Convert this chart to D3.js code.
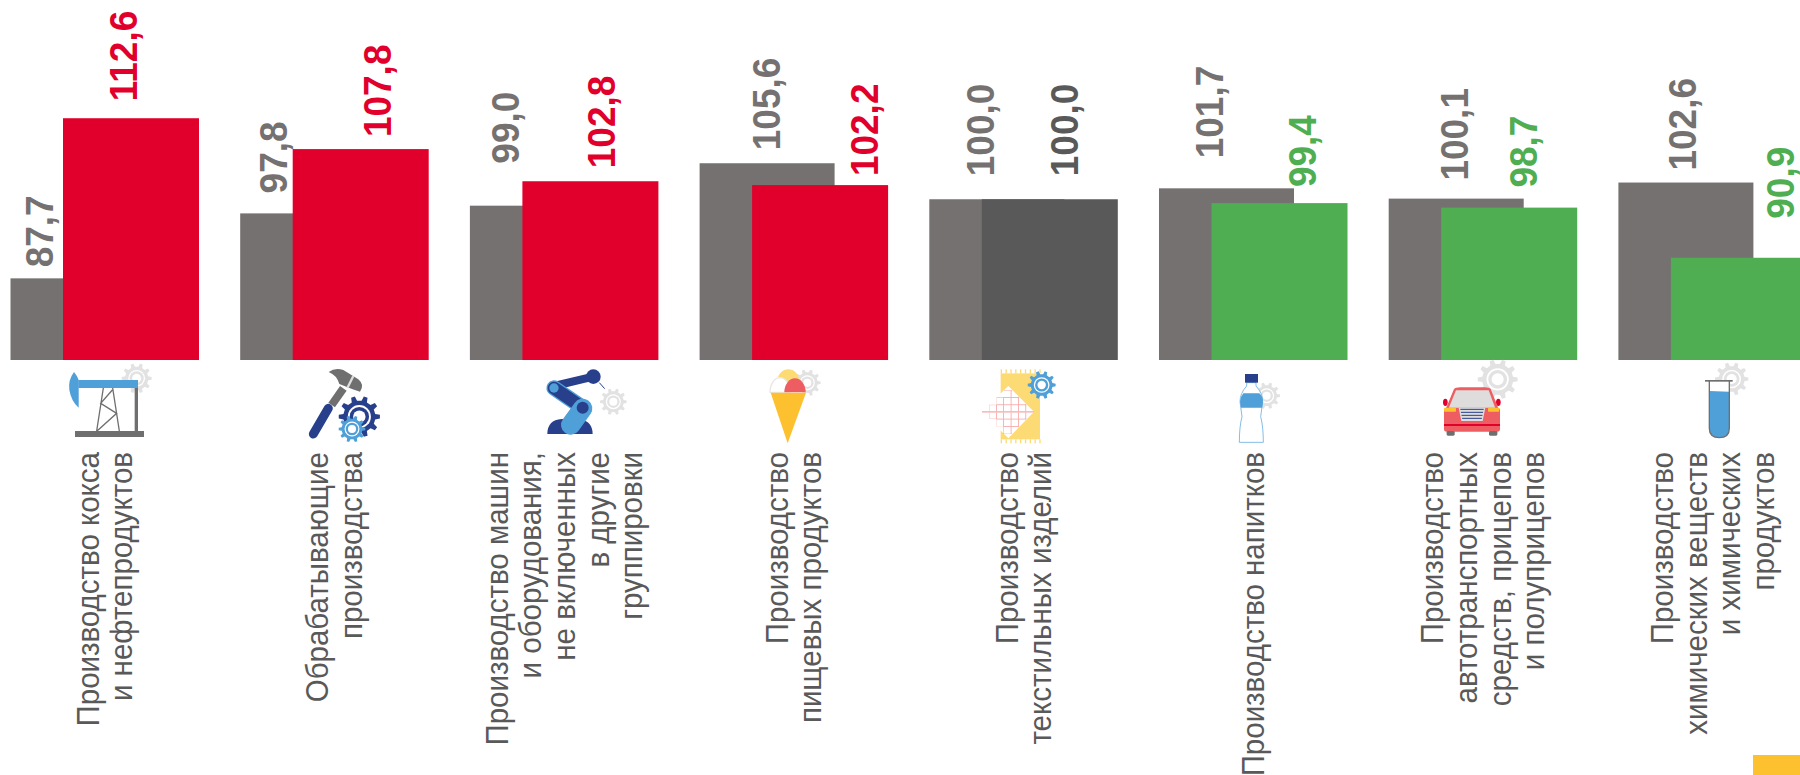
<!DOCTYPE html>
<html lang="ru">
<head>
<meta charset="utf-8">
<script src="https://cdn.jsdelivr.net/npm/d3@7"></script>
<style>
  html, body { margin: 0; padding: 0; background: #fff; overflow: hidden; }
  svg { display: block; font-family: "Liberation Sans", Arial, sans-serif; }
</style>
</head>
<body>
<script>
// data
const categories = [
  ["Производство кокса", "и нефтепродуктов"],
  ["Обрабатывающие", "производства"],
  ["Производство машин", "и оборудования,", "не включенных", "в другие", "группировки"],
  ["Производство", "пищевых продуктов"],
  ["Производство", "текстильных изделий"],
  ["Производство напитков"],
  ["Производство", "автотранспортных", "средств, прицепов", "и полуприцепов"],
  ["Производство", "химических веществ", "и химических", "продуктов"]
];
const previous = [87.7, 97.8, 99.0, 105.6, 100.0, 101.7, 100.1, 102.6];
const current = [112.6, 107.8, 102.8, 102.2, 100.0, 99.4, 98.7, 90.9];

// layout
const width = 1800, height = 775, baseline = 360;
const grey = "#767171", red = "#e1002b", green = "#4fae52", dark = "#595959";
const lightBlue = "#4f9fd9", navy = "#28408c", gearGrey = "#e2e2e2", iconGrey = "#6f6f6f";
const coral = "#ee5d62", amber = "#fdc12f", sand = "#fddb74";
const currShift = 52.5;

// hand placed labels, same as the source slide: [offset from bar left, gap above bar]
const prevLabelPos = [[42.5, 11], [47, 20], [49, 42], [80, 13], [65, 23], [63.6, 30], [79, 18], [77.6, 12]];
const currLabelPos = [[74, 17], [98, 12], [92.6, 13], [126, 9], [96, 23], [104, 16], [96, 20], [123, 39]];

const svg = d3.select("body").append("svg")
  .attr("width", width).attr("height", height);

const padInner = 0.179, groupStep = 229.7;
const x = d3.scaleBand()
  .domain(d3.range(categories.length))
  .range([10.5, 10.5 + groupStep * (categories.length - padInner)])
  .paddingInner(padInner)
  .paddingOuter(0);
const y = d3.scaleLinear().domain([75, 75 + baseline / 6.43]).range([baseline, 0]);

const fmt = v => v.toFixed(1).replace(".", ",");
const currColor = v => v > 100 ? red : v < 100 ? green : dark;

// bars
svg.append("g").selectAll("rect").data(previous).join("rect")
  .attr("x", (d, i) => x(i))
  .attr("y", d => y(d))
  .attr("width", 135)
  .attr("height", d => baseline - y(d))
  .attr("fill", grey);

svg.append("g").selectAll("rect").data(current).join("rect")
  .attr("x", (d, i) => x(i) + currShift)
  .attr("y", d => y(d))
  .attr("width", 136)
  .attr("height", d => baseline - y(d))
  .attr("fill", currColor);

// value labels
const valueLabel = (values, pos, shift, color) => svg.append("g").selectAll("text").data(values).join("text")
  .attr("transform", (d, i) => `translate(${x(i) + shift + pos[i][0]},${y(d) - pos[i][1]}) rotate(-90) scale(1,1.05)`)
  .attr("font-size", 37)
  .attr("font-weight", "bold")
  .attr("fill", color)
  .text(fmt);

valueLabel(previous, prevLabelPos, 0, grey);
valueLabel(current, currLabelPos, currShift, currColor);

// category labels
const lineStep = 33.6;
const catGroup = svg.append("g").selectAll("g").data(categories).join("g");
catGroup.selectAll("text").data((d, i) => d.map((t, j) => ({ t, j, n: d.length, i }))).join("text")
  .attr("transform", d => `translate(${x(d.i) + 105 + (d.j - (d.n - 1) / 2) * lineStep},452) rotate(-90) scale(1,1.08)`)
  .attr("text-anchor", "end")
  .attr("font-size", 29.5)
  .attr("fill", dark)
  .text(d => d.t);

// icons: coordinates below are in 3x crop pixels, scaled back by the group transform
function gear(g, cx, cy, r, color) {
  const teeth = 10, pts = [];
  d3.range(teeth).forEach(k => {
    const a = k * 2 * Math.PI / teeth, s = Math.PI / teeth;
    [[-0.55, 0.78], [-0.3, 1], [0.3, 1], [0.55, 0.78]].forEach(p => {
      pts.push([cx + r * p[1] * Math.cos(a + p[0] * s), cy + r * p[1] * Math.sin(a + p[0] * s)]);
    });
  });
  g.append("path").attr("d", d3.line()(pts) + "Z").attr("fill", color);
  g.append("circle").attr("cx", cx).attr("cy", cy).attr("r", r * 0.56).attr("fill", "#fff");
  g.append("circle").attr("cx", cx).attr("cy", cy).attr("r", r * 0.47).attr("fill", color);
  g.append("circle").attr("cx", cx).attr("cy", cy).attr("r", r * 0.3).attr("fill", "#fff");
}
const crop = (cx, cy) => svg.append("g").attr("transform", `translate(${cx},${cy}) scale(${1 / 3})`);
const box = (g, x0, y0, x1, y1, fill, rx) => g.append("rect")
  .attr("x", x0).attr("y", y0).attr("width", x1 - x0).attr("height", y1 - y0)
  .attr("fill", fill).attr("rx", rx || 0);
const stroke = (g, d, color, w, cap) => g.append("path").attr("d", d)
  .attr("fill", "none").attr("stroke", color).attr("stroke-width", w).attr("stroke-linecap", cap || "butt");

// oil pump + hammer
const ic1 = crop(60, 360);
gear(ic1, 230, 55, 45, gearGrey);
box(ic1, 55, 60, 234, 84, lightBlue);
ic1.append("path").attr("d", "M42,36Q24,60 28,90Q34,125 56,143L56,60Q50,45 42,36Z").attr("fill", lightBlue);
box(ic1, 224, 84, 234, 213, iconGrey);
box(ic1, 45, 213, 252, 231, iconGrey);
stroke(ic1, "M110,213L130,84M178,213L158,84M112,212L170,160L122,130L157,90", iconGrey, 4);

stroke(ic1, "M850,85L815,135", iconGrey, 24);
ic1.append("path").attr("d", "M806,36Q825,22 850,30L895,58Q915,75 900,95L878,88L838,72Q830,45 806,36Z").attr("fill", iconGrey);
stroke(ic1, "M880,48L862,84", "#dedede", 7);
stroke(ic1, "M805,145L760,222", navy, 27, "round");
gear(ic1, 898, 170, 62, navy);
gear(ic1, 876, 207, 40, lightBlue);

// robot + ice cream
const ic2 = crop(530, 360);
gear(ic2, 250, 125, 40, gearGrey);
ic2.append("path").attr("d", "M52,222Q52,180 95,177L150,177Q188,185 188,222Z").attr("fill", navy);
stroke(ic2, "M72,78L190,50", navy, 24, "round");
ic2.append("circle").attr("cx", 190).attr("cy", 50).attr("r", 22).attr("fill", navy);
stroke(ic2, "M208,68L224,86", navy, 3);
stroke(ic2, "M72,84L158,143", lightBlue, 46, "round");
stroke(ic2, "M72,84L158,143", navy, 38, "round");
stroke(ic2, "M158,145L122,195", lightBlue, 58, "round");
ic2.append("circle").attr("cx", 72).attr("cy", 84).attr("r", 14).attr("fill", lightBlue);
ic2.append("circle").attr("cx", 158).attr("cy", 143).attr("r", 18).attr("fill", navy);

gear(ic2, 832, 68, 40, gearGrey);
ic2.append("circle").attr("cx", 775).attr("cy", 60).attr("r", 32).attr("fill", sand);
ic2.append("path").attr("d", "M720,97A30,44 0 0 1 780,97Z").attr("fill", "#fff").attr("stroke", "#e8e8e8").attr("stroke-width", 4);
ic2.append("path").attr("d", "M763,97A32,42 0 0 1 827,97Z").attr("fill", coral);
ic2.append("path").attr("d", "M722,98L828,98L773,250Z").attr("fill", amber);

// cloth + bottle
const ic3 = crop(970, 360);
box(ic3, 92, 40, 210, 238, sand);
d3.range(9).forEach(k => {
  box(ic3, 92 + k * 14.5, 28, 96 + k * 14.5, 40, sand);
  box(ic3, 92 + k * 14.5, 238, 96 + k * 14.5, 250, sand);
});
ic3.append("path").attr("d", "M115,78L192,155L115,235L36,155Z").attr("fill", "#fff");
ic3.append("clipPath").attr("id", "cloth").append("path")
  .attr("d", "M102,90L125,90L190,155L125,222L100,222L100,199L80,199L80,177L58,177L58,134L80,134L80,112L102,112Z");
const lattice = ic3.append("g").attr("clip-path", "url(#cloth)");
[58, 79, 100, 123, 145, 167].forEach(v => box(lattice, v - 1, 80, v + 1.5, 240, "#f6a8a8"));
[90, 112, 134, 177, 199, 222].forEach(v => box(lattice, 40, v - 1, 200, v + 1.5, "#f6a8a8"));
box(ic3, 36, 153, 192, 158, "#f9bcbc");
gear(ic3, 215, 75, 42, lightBlue);

gear(ic3, 890, 107, 40, gearGrey);
const bottle = "M830,68L830,78Q810,100 810,125L816,170Q808,200 808,247L880,247Q880,200 872,170L878,125Q878,100 858,78L858,68Z";
ic3.append("path").attr("d", bottle).attr("fill", "#fff").attr("stroke", "#6ab0e3").attr("stroke-width", 2.5);
ic3.append("path").attr("d", "M820,100L868,100Q880,112 879,125L876,143L813,143L810,125Q810,112 820,100Z").attr("fill", lightBlue);
box(ic3, 825, 42, 864, 68, navy);

// car + test tube
const ic4 = crop(1430, 355);
gear(ic4, 203, 73, 60, gearGrey);
ic4.append("ellipse").attr("cx", 46).attr("cy", 142).attr("rx", 7).attr("ry", 11).attr("fill", red);
ic4.append("ellipse").attr("cx", 205).attr("cy", 142).attr("rx", 7).attr("ry", 11).attr("fill", red);
ic4.append("path").attr("d", "M72,102Q76,97 90,97L165,97Q178,97 182,102L205,160L48,160Z").attr("fill", coral);
ic4.append("path").attr("d", "M78,106L176,106L196,160L56,160Z").attr("fill", "#dedddc");
box(ic4, 42, 158, 210, 230, coral, 8);
box(ic4, 42, 158, 78, 170, amber, 3);
box(ic4, 174, 158, 208, 170, amber, 3);
ic4.append("path").attr("d", "M86,158L166,158L158,198L94,198Z").attr("fill", "#dedddc");
[163, 172, 181, 190].forEach(v => box(ic4, 90 + (v - 158) * 0.2, v - 1.5, 162 - (v - 158) * 0.2, v + 1.5, navy));
box(ic4, 42, 207, 210, 213, red);
box(ic4, 50, 228, 74, 242, iconGrey, 4);
box(ic4, 177, 228, 202, 242, iconGrey, 4);

gear(ic4, 905, 72, 50, gearGrey);
ic4.append("path").attr("d", "M838,78L838,220Q838,248 868,248Q898,248 898,220L898,78Z").attr("fill", "#fff");
ic4.append("path").attr("d", "M838,108L898,110L898,220Q898,248 868,248Q838,248 838,220Z").attr("fill", lightBlue);
stroke(ic4, "M838,78L838,220Q838,248 868,248Q898,248 898,220L898,78", iconGrey, 4);
box(ic4, 825, 75, 908, 80, iconGrey);

// corner tab
svg.append("rect").attr("x", 1753).attr("y", 755).attr("width", 47).attr("height", 20).attr("fill", amber);
</script>
</body>
</html>
